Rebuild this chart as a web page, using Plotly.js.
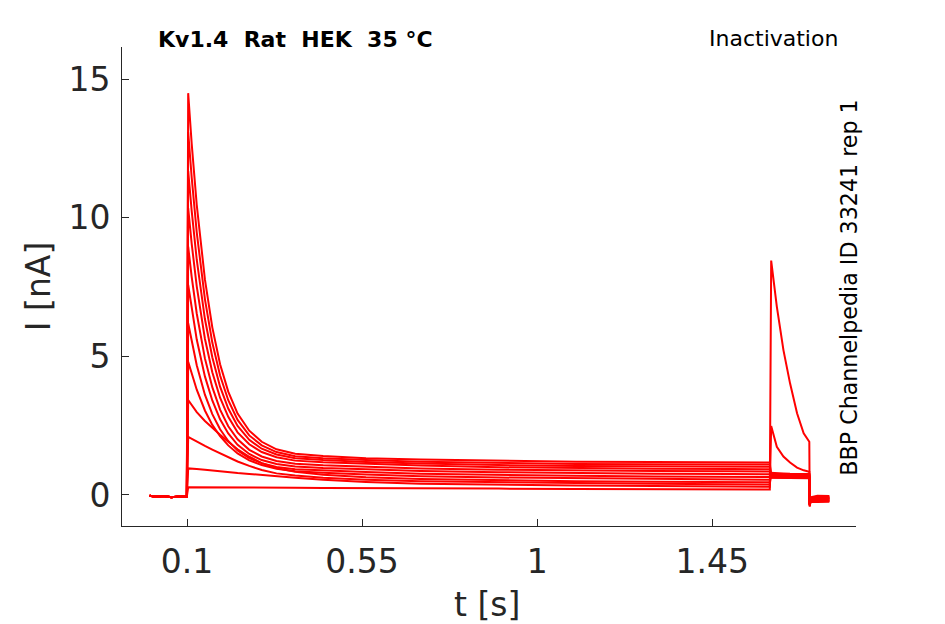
<!DOCTYPE html>
<html>
<head>
<meta charset="utf-8">
<script src="https://cdn.plot.ly/plotly-3.0.1.min.js"></script>
<style>
  html, body { margin: 0; padding: 0; background: #fff; }
  #plot { width: 945px; height: 624px; }
</style>
</head>
<body>
<div id="plot"></div>
<script>
// Kv1.4 inactivation protocol - current traces

// holding period before the conditioning step
const tPre = [0.004, 0.02, 0.04, 0.06, 0.08, 0.0995];
const iPre = [-0.03, -0.06, -0.04, -0.08, -0.05, -0.06];

// conditioning step (one array per sweep, smallest to largest)
const tStep = [0.103, 0.112, 0.125, 0.146, 0.165, 0.185, 0.206, 0.23, 0.26, 0.292,
               0.33, 0.378, 0.45, 0.56, 0.7, 0.9, 1.1, 1.3, 1.5, 1.598];
const stepI = [
  [0.28, 0.28, 0.28, 0.28, 0.28, 0.27, 0.27, 0.27, 0.27, 0.26, 0.26, 0.26, 0.25, 0.25, 0.24, 0.23, 0.22, 0.21, 0.21, 0.2],
  [0.96, 0.96, 0.94, 0.91, 0.88, 0.85, 0.82, 0.79, 0.76, 0.72, 0.67, 0.62, 0.55, 0.47, 0.41, 0.37, 0.34, 0.32, 0.31, 0.3],
  [2.1, 2.03, 1.92, 1.77, 1.64, 1.51, 1.37, 1.21, 1.05, 0.9, 0.78, 0.7, 0.62, 0.55, 0.5, 0.46, 0.43, 0.41, 0.39, 0.38],
  [3.43, 3.24, 2.99, 2.67, 2.41, 2.17, 1.92, 1.65, 1.38, 1.15, 0.97, 0.84, 0.73, 0.64, 0.58, 0.53, 0.5, 0.48, 0.47, 0.46],
  [4.81, 4.37, 3.8, 3.05, 2.53, 2.12, 1.79, 1.5, 1.25, 1.08, 0.95, 0.86, 0.8, 0.74, 0.68, 0.63, 0.6, 0.58, 0.56, 0.55],
  [6.2, 5.52, 4.68, 3.62, 2.92, 2.37, 1.95, 1.61, 1.33, 1.15, 1.01, 0.93, 0.88, 0.83, 0.77, 0.72, 0.69, 0.67, 0.66, 0.65],
  [7.58, 6.7, 5.61, 4.28, 3.41, 2.73, 2.22, 1.81, 1.48, 1.26, 1.12, 1.03, 0.97, 0.93, 0.87, 0.82, 0.79, 0.77, 0.76, 0.75],
  [8.96, 7.87, 6.55, 4.93, 3.89, 3.08, 2.48, 2.01, 1.63, 1.39, 1.23, 1.13, 1.07, 1.02, 0.96, 0.91, 0.88, 0.87, 0.86, 0.85],
  [10.35, 9.07, 7.53, 5.64, 4.43, 3.51, 2.82, 2.26, 1.83, 1.55, 1.36, 1.24, 1.18, 1.12, 1.06, 1.0, 0.97, 0.95, 0.94, 0.93],
  [11.7, 10.25, 8.49, 6.35, 4.97, 3.91, 3.12, 2.49, 1.99, 1.67, 1.46, 1.33, 1.26, 1.19, 1.14, 1.08, 1.05, 1.03, 1.02, 1.02],
  [13.1, 11.46, 9.48, 7.07, 5.5, 4.31, 3.42, 2.71, 2.15, 1.79, 1.55, 1.4, 1.33, 1.26, 1.2, 1.15, 1.12, 1.11, 1.1, 1.1],
  [14.5, 12.68, 10.47, 7.78, 6.05, 4.72, 3.73, 2.94, 2.32, 1.92, 1.65, 1.49, 1.41, 1.33, 1.28, 1.23, 1.2, 1.19, 1.18, 1.17]
];

// test pulse
const tTest = [1.6015, 1.616, 1.633, 1.65, 1.668, 1.685, 1.6995];
const testI = [
  [8.46, 6.8, 5.23, 4.03, 2.95, 2.23, 1.92],
  [2.49, 1.74, 1.39, 1.17, 0.99, 0.89, 0.84],
  [0.8, 0.78, 0.78, 0.77, 0.77, 0.76, 0.76],
  [0.76, 0.76, 0.75, 0.75, 0.74, 0.74, 0.74],
  [0.74, 0.73, 0.73, 0.72, 0.72, 0.72, 0.71],
  [0.72, 0.71, 0.71, 0.7, 0.7, 0.7, 0.7],
  [0.7, 0.7, 0.69, 0.69, 0.68, 0.68, 0.68],
  [0.68, 0.68, 0.67, 0.67, 0.67, 0.66, 0.66],
  [0.66, 0.66, 0.65, 0.65, 0.65, 0.65, 0.64],
  [0.65, 0.64, 0.64, 0.64, 0.63, 0.63, 0.63],
  [0.63, 0.63, 0.62, 0.62, 0.62, 0.62, 0.61],
  [0.62, 0.62, 0.61, 0.61, 0.61, 0.6, 0.6]
];

// tail after the test pulse
const tPost = [1.7005, 1.703, 1.72, 1.751];
const postI = [
  [-0.42, -0.2, -0.14, -0.15],
  [-0.4, -0.18, -0.12, -0.13],
  [-0.38, -0.15, -0.1, -0.11],
  [-0.36, -0.12, -0.08, -0.09],
  [-0.36, -0.2, -0.2, -0.21],
  [-0.35, -0.22, -0.23, -0.22],
  [-0.34, -0.1, -0.05, -0.06],
  [-0.34, -0.16, -0.17, -0.16],
  [-0.33, -0.24, -0.25, -0.24],
  [-0.33, -0.08, -0.03, -0.04],
  [-0.32, -0.19, -0.18, -0.19],
  [-0.32, -0.13, -0.11, -0.12]
];

const time = [...tPre, ...tStep, ...tTest, ...tPost];

const traces = stepI.map((step, k) => ({
    x: time,
    y: [...iPre, ...step, ...testI[k], ...postI[k]],
    type: 'scatter',
    mode: 'lines',
    line: { color: '#ff0000', width: 2 },
    hoverinfo: 'skip',
    showlegend: false
}));

const axisColor = '#262626';
const font = 'DejaVu Sans, sans-serif';

const layout = {
    width: 945,
    height: 624,
    margin: { l: 122, r: 89, t: 47, b: 98, pad: 0 },
    paper_bgcolor: '#ffffff',
    plot_bgcolor: '#ffffff',
    font: { family: font, color: axisColor },
    xaxis: {
        range: [-0.0671, 1.8195],
        tickvals: [0.1, 0.55, 1, 1.45],
        ticktext: ['0.1', '0.55', '1', '1.45'],
        ticks: 'inside',
        ticklen: 7,
        tickwidth: 1,
        tickcolor: axisColor,
        ticklabelstandoff: 6,
        showline: true,
        linecolor: axisColor,
        linewidth: 1,
        showgrid: false,
        zeroline: false,
        tickfont: { family: font, size: 33, color: axisColor }
    },
    yaxis: {
        range: [-1.119, 16.167],
        tickvals: [0, 5, 10, 15],
        ticks: 'inside',
        ticklen: 7,
        tickwidth: 1,
        tickcolor: axisColor,
        ticklabelstandoff: 4,
        showline: true,
        linecolor: axisColor,
        linewidth: 1,
        showgrid: false,
        zeroline: false,
        tickfont: { family: font, size: 33, color: axisColor }
    },
    annotations: [
        {
            text: '<b>Kv1.4\u00A0\u00A0Rat\u00A0\u00A0HEK\u00A0\u00A035 °C</b>',
            xref: 'paper', yref: 'paper', x: 0.046, y: 1,
            xanchor: 'left', yanchor: 'bottom', yshift: -7,
            showarrow: false,
            font: { family: font, size: 22, color: '#000000' }
        },
        {
            text: 'Inactivation',
            xref: 'paper', yref: 'paper', x: 0.978, y: 1,
            xanchor: 'right', yanchor: 'bottom', yshift: -6,
            showarrow: false,
            font: { family: font, size: 22, color: '#000000' }
        },
        {
            text: 'BBP Channelpedia ID 33241 rep 1',
            xref: 'paper', yref: 'paper', x: 0.9905, y: 0.4975,
            xanchor: 'center', yanchor: 'middle', textangle: -90,
            showarrow: false,
            font: { family: font, size: 22.2, color: '#000000' }
        },
        {
            text: 't [s]',
            xref: 'paper', yref: 'paper', x: 0.4978, y: -0.163,
            xanchor: 'center', yanchor: 'middle',
            showarrow: false,
            font: { family: font, size: 33, color: axisColor }
        },
        {
            text: 'I [nA]',
            xref: 'paper', yref: 'paper', x: -0.1135, y: 0.5,
            xanchor: 'center', yanchor: 'middle', textangle: -90,
            showarrow: false,
            font: { family: font, size: 33, color: axisColor }
        }
    ]
};

Plotly.newPlot('plot', traces, layout, { displayModeBar: false, staticPlot: true });
</script>
</body>
</html>
